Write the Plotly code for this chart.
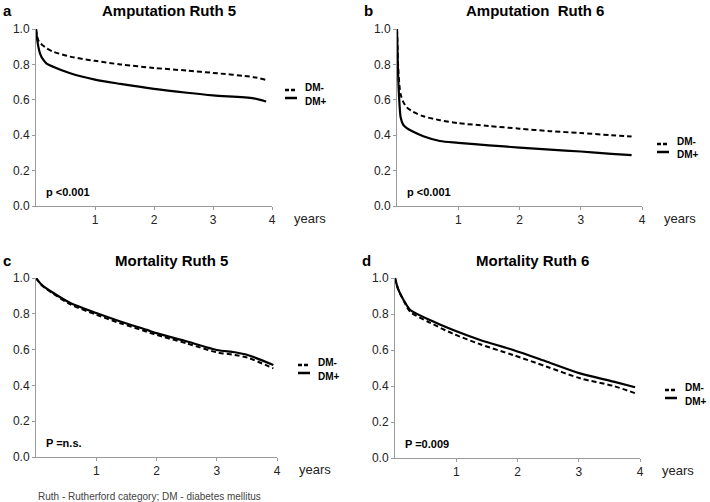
import plotly.graph_objects as go

W, H = 710, 502

# ---- data ----
t_a = [0, 0.02, 0.04, 0.07, 0.125, 0.18, 0.29, 0.58, 1.0, 1.43, 2.0, 2.56, 3.0, 3.69, 3.9]
a_dm_neg = [1.0, 0.96, 0.935, 0.92, 0.905, 0.891, 0.872, 0.844, 0.82, 0.80, 0.78, 0.765, 0.752, 0.728, 0.712]
a_dm_pos = [1.0, 0.94, 0.90, 0.86, 0.825, 0.805, 0.787, 0.75, 0.714, 0.69, 0.662, 0.64, 0.625, 0.608, 0.59]

t_b = [0, 0.01, 0.02, 0.04, 0.06, 0.1, 0.16, 0.25, 0.43, 0.7, 1.0, 1.5, 2.0, 2.5, 3.0, 3.5, 3.83]
b_dm_neg = [1.0, 0.88, 0.78, 0.68, 0.63, 0.59, 0.557, 0.535, 0.507, 0.485, 0.468, 0.452, 0.437, 0.423, 0.412, 0.40, 0.392]
b_dm_pos = [1.0, 0.85, 0.72, 0.58, 0.50, 0.46, 0.44, 0.422, 0.394, 0.367, 0.357, 0.343, 0.33, 0.318, 0.308, 0.295, 0.287]

t_c = [0, 0.1, 0.29, 0.57, 1.0, 1.4, 1.84, 2.0, 2.51, 3.0, 3.3, 3.51, 3.94]
c_dm_pos = [1.0, 0.96, 0.916, 0.86, 0.804, 0.757, 0.71, 0.692, 0.645, 0.598, 0.585, 0.57, 0.514]
c_dm_neg = [1.0, 0.958, 0.912, 0.853, 0.795, 0.747, 0.70, 0.682, 0.634, 0.585, 0.57, 0.555, 0.495]

t_d = [0, 0.05, 0.14, 0.25, 0.57, 0.95, 1.39, 1.93, 2.48, 3.02, 3.57, 3.92]
d_dm_pos = [1.0, 0.94, 0.878, 0.822, 0.767, 0.711, 0.656, 0.6, 0.535, 0.47, 0.424, 0.393]
d_dm_neg = [1.0, 0.94, 0.875, 0.812, 0.752, 0.69, 0.632, 0.572, 0.507, 0.443, 0.40, 0.36]

panel_letters = ["a", "b", "c", "d"]
panel_titles = ["Amputation Ruth 5", "Amputation  Ruth 6", "Mortality Ruth 5", "Mortality Ruth 6"]
p_values = ["p <0.001", "p <0.001", "P =n.s.", "P =0.009"]
legend_labels = ["DM-", "DM+"]
x_ticks = [1, 2, 3, 4]
y_ticks = [0.0, 0.2, 0.4, 0.6, 0.8, 1.0]
footnote = "Ruth - Rutherford category; DM - diabetes mellitus"

series = [
    (t_a, a_dm_neg, a_dm_pos),
    (t_b, b_dm_neg, b_dm_pos),
    (t_c, c_dm_neg, c_dm_pos),
    (t_d, d_dm_neg, d_dm_pos),
]

# ---- layout geometry in pixels: (x_left, x_right, y_top(1.0), y_bottom(0.0)) ----
boxes = [
    (36, 272, 29, 206),
    (397, 642, 29, 206),
    (36, 277, 278, 457),
    (395, 640, 278, 458),
]

def px(x):
    return x / W

def py(y):
    return 1 - y / H

fig = go.Figure()
FONT = "Liberation Sans, Arial, sans-serif"
axis_color = "#9a9a9a"
annotations = []
shapes = []

for i, ((t, neg, pos), (xl, xr, yt, yb)) in enumerate(zip(series, boxes)):
    n = i + 1
    xa = "x" if n == 1 else f"x{n}"
    ya = "y" if n == 1 else f"y{n}"
    fig.add_trace(go.Scatter(x=t, y=neg, xaxis=xa, yaxis=ya, mode="lines",
                             line=dict(color="black", width=2, dash="5px,3px",
                                       shape="spline", smoothing=0.8),
                             hoverinfo="skip", showlegend=False))
    fig.add_trace(go.Scatter(x=t, y=pos, xaxis=xa, yaxis=ya, mode="lines",
                             line=dict(color="black", width=2.2,
                                       shape="spline", smoothing=0.8),
                             hoverinfo="skip", showlegend=False))
    xkey = "xaxis" if n == 1 else f"xaxis{n}"
    ykey = "yaxis" if n == 1 else f"yaxis{n}"
    fig.update_layout(**{
        xkey: dict(domain=[px(xl), px(xr)], range=[0, 4], anchor=ya, automargin=False,
                   tickvals=x_ticks, ticktext=[str(v) for v in x_ticks],
                   showgrid=False, zeroline=False, showline=True, linecolor=axis_color,
                   linewidth=1, ticks="outside", ticklen=3, tickcolor=axis_color,
                   tickfont=dict(family=FONT, size=12, color="#222")),
        ykey: dict(domain=[py(yb), py(yt)], range=[0, 1], anchor=xa, automargin=False,
                   tickvals=y_ticks, ticktext=[f"{v:.1f}" for v in y_ticks],
                   showgrid=False, zeroline=False, showline=True, linecolor=axis_color,
                   linewidth=1, ticks="outside", ticklen=3, tickcolor=axis_color,
                   tickfont=dict(family=FONT, size=12, color="#222")),
    })
    # title
    annotations.append(dict(x=px((xl + xr) / 2 + 15), y=py(yt - 18), xref="paper", yref="paper",
                            text=f"<b>{panel_titles[i]}</b>", showarrow=False,
                            font=dict(family=FONT, size=15, color="black"),
                            xanchor="center", yanchor="middle"))
    # panel letter
    annotations.append(dict(x=px(xl - 35), y=py(yt - 18), xref="paper", yref="paper",
                            text=f"<b>{panel_letters[i]}</b>", showarrow=False,
                            font=dict(family=FONT, size=15, color="black"),
                            xanchor="left", yanchor="middle"))
    # years
    annotations.append(dict(x=px(xr + 20), y=py(yb + 12), xref="paper", yref="paper",
                            text="years", showarrow=False,
                            font=dict(family=FONT, size=13, color="#222"),
                            xanchor="left", yanchor="middle"))
    # p value
    annotations.append(dict(x=px(xl + 8), y=py(yb - 14), xref="paper", yref="paper",
                            text=f"<b>{p_values[i]}</b>", showarrow=False,
                            font=dict(family=FONT, size=11, color="black"),
                            xanchor="left", yanchor="middle"))

# legends (position of the DM- marker centre per panel)
leg_pos = [(285, 90), (657, 144), (298, 365), (665, 390)]
for (lx, ly) in leg_pos:
    shapes.append(dict(type="line", xref="paper", yref="paper",
                       x0=px(lx), x1=px(lx + 12), y0=py(ly), y1=py(ly),
                       line=dict(color="black", width=2.5, dash="4px,2px")))
    shapes.append(dict(type="line", xref="paper", yref="paper",
                       x0=px(lx), x1=px(lx + 12), y0=py(ly + 8), y1=py(ly + 8),
                       line=dict(color="black", width=2.5)))
    annotations.append(dict(x=px(lx + 18), y=py(ly - 3), xref="paper", yref="paper",
                            text=f"<b>{legend_labels[0]}</b>", showarrow=False,
                            font=dict(family=FONT, size=10, color="black"),
                            xanchor="left", yanchor="middle"))
    annotations.append(dict(x=px(lx + 18), y=py(ly + 11), xref="paper", yref="paper",
                            text=f"<b>{legend_labels[1]}</b>", showarrow=False,
                            font=dict(family=FONT, size=10, color="black"),
                            xanchor="left", yanchor="middle"))

annotations.append(dict(x=px(36), y=py(496), xref="paper", yref="paper",
                        text=footnote, showarrow=False,
                        font=dict(family=FONT, size=10, color="#444"),
                        xanchor="left", yanchor="middle"))

fig.update_layout(width=W, height=H, margin=dict(l=0, r=0, t=0, b=0, pad=0),
                  autosize=False,
                  paper_bgcolor="white", plot_bgcolor="white",
                  annotations=annotations, shapes=shapes, showlegend=False)

fig.write_html("out.html", config={"displayModeBar": False, "responsive": False},
               post_script="document.body.style.margin='0px';document.body.style.overflow='hidden';")
